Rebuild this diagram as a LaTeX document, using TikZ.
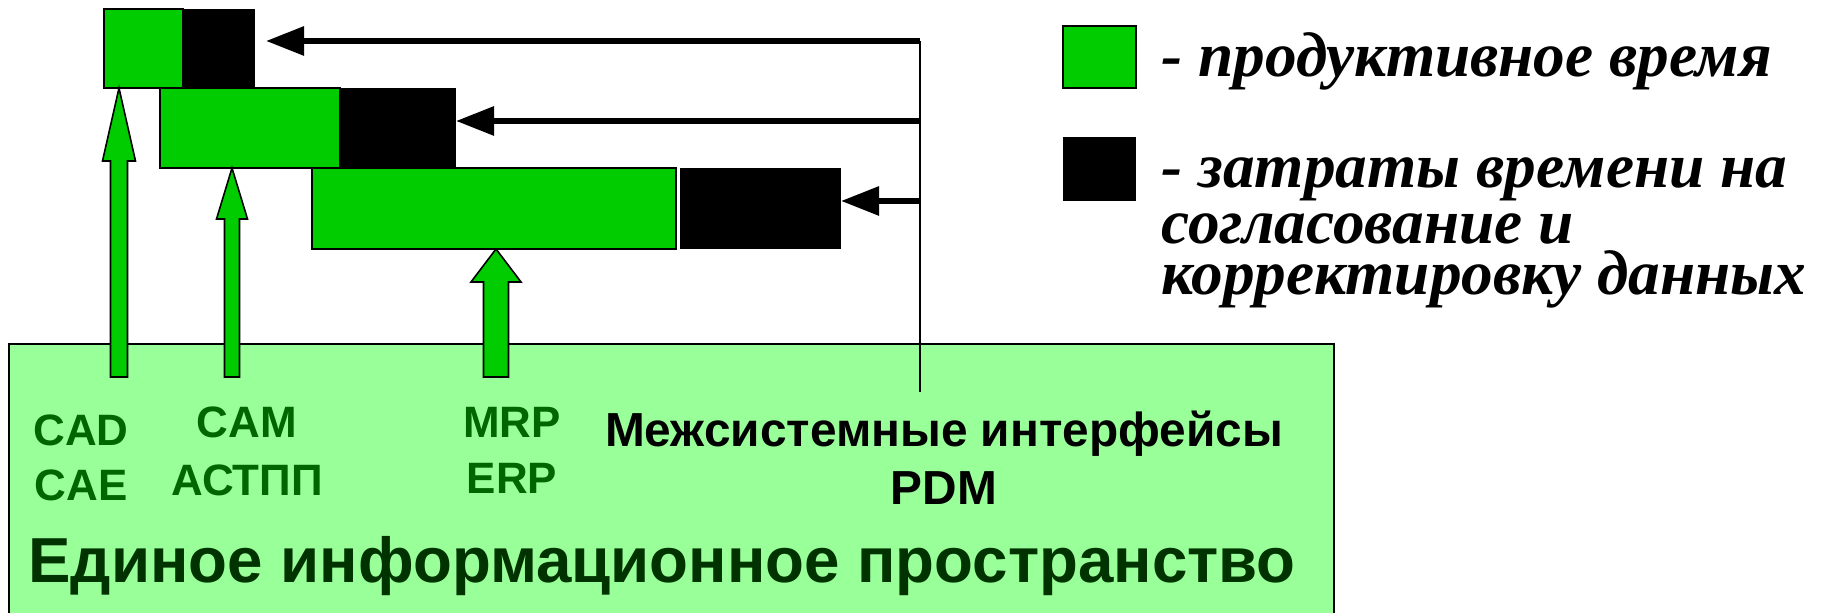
\documentclass[tikz,border=0pt]{standalone}
\usepackage{fontspec}
\setmainfont{Liberation Serif}
\setsansfont{Liberation Sans}
\usetikzlibrary{arrows.meta,calc}
\definecolor{prodgreen}{RGB}{0,204,0}
\definecolor{spacegreen}{RGB}{153,255,153}
\definecolor{labelgreen}{RGB}{0,102,0}
\definecolor{titlegreen}{RGB}{0,51,0}
\tikzset{
  prodbox/.style={draw=black, line width=0.6pt, fill=prodgreen, inner sep=0pt, outer sep=0pt, anchor=south west},
  lagbox/.style={fill=black, inner sep=0pt, outer sep=0pt, anchor=south west},
  feed/.style={draw=black, line width=0.45pt, fill=prodgreen, line join=miter},
  ptr/.style={line width=1.7pt, -{Triangle[length=3.8mm,width=2.8mm]}},
  lbl/.style={font=\sffamily\bfseries\fontsize{12.5}{14}\selectfont, text=labelgreen, inner sep=0pt},
  sys/.style={font=\sffamily\bfseries\fontsize{13.6}{15}\selectfont, text=black, inner sep=0pt},
  legtxt/.style={font=\rmfamily\bfseries\itshape\fontsize{18}{20}\selectfont, inner sep=0pt, anchor=base west},
}
% up arrow: #1 foot, #2 tip, #3 half shaft, #4 half head, #5 head length
\newcommand{\feedarrow}[5]{%
  \draw[feed] ($(#1)+(-#3,0)$) -- ($(#2)+(-#3,-#5)$) -- ($(#2)+(-#4,-#5)$) -- (#2)
    -- ($(#2)+(#4,-#5)$) -- ($(#2)+(#3,-#5)$) -- ($(#1)+(#3,0)$) -- cycle;}
\begin{document}
\begin{tikzpicture}
\useasboundingbox (0,0) rectangle (18.30,6.13);
%common information space
\draw[line width=0.6pt, fill=spacegreen] (0.09,-0.2) rectangle (13.34,2.69);
\node[font=\sffamily\bfseries\fontsize{18.1}{21}\selectfont, text=titlegreen, inner sep=0pt] (space) at (6.62,0.47) {Единое информационное пространство};
%time bars
\node[prodbox, minimum width=0.79cm, minimum height=0.79cm] (prod1) at (1.04,5.25) {};
\node[lagbox, minimum width=0.72cm, minimum height=0.79cm] (lag1) at (1.83,5.25) {};
\node[prodbox, minimum width=1.80cm, minimum height=0.80cm] (prod2) at (1.60,4.45) {};
\node[lagbox, minimum width=1.16cm, minimum height=0.80cm] (lag2) at (3.40,4.45) {};
\node[prodbox, minimum width=3.64cm, minimum height=0.81cm] (prod3) at (3.12,3.64) {};
\node[lagbox, minimum width=1.61cm, minimum height=0.81cm] (lag3) at (6.80,3.64) {};
%interfaces
\coordinate (j0) at (9.20,2.21);
\coordinate (j1) at (9.20,5.72);
\coordinate (j2) at (9.20,4.92);
\coordinate (j3) at (9.20,4.12);
\draw[line width=0.45pt] (j0) -- (j1);
\draw[ptr, shorten >=1.1mm] (j1) -- (j1 -| lag1.east);
\draw[ptr] (j2) -- (j2 -| lag2.east);
\draw[ptr] (j3) -- (j3 -| lag3.east);
%systems feeding the bars
\coordinate (f1) at (1.19,2.36);
\coordinate (f2) at (2.32,2.36);
\coordinate (f3) at (4.96,2.36);
\coordinate (t1) at (f1 |- prod1.south);
\coordinate (t2) at (f2 |- prod2.south);
\coordinate (t3) at (f3 |- prod3.south);
\feedarrow{f1}{t1}{0.085}{0.165}{0.73}
\feedarrow{f2}{t2}{0.075}{0.155}{0.51}
\feedarrow{f3}{t3}{0.125}{0.25}{0.33}
\node[lbl] (cad) at (0.81,1.83) {CAD};
\node[lbl] (cae) at (0.81,1.28) {CAE};
\node[lbl] (cam) at (2.47,1.91) {CAM};
\node[lbl] (astpp) at (2.47,1.33) {АСТПП};
\node[lbl] (mrp) at (5.12,1.91) {MRP};
\node[lbl] (erp) at (5.12,1.35) {ERP};
\node[sys] (mezh) at (9.44,1.79) {Межсистемные интерфейсы};
\node[sys] (pdm) at (9.44,1.25) {PDM};
%legend
\node[prodbox, minimum width=0.73cm, minimum height=0.62cm] (keyprod) at (10.63,5.25) {};
\node[lagbox, minimum width=0.73cm, minimum height=0.64cm] (keylag) at (10.63,4.12) {};
\node[legtxt] (legprod) at (11.61,5.36) {- продуктивное время};
\node[legtxt] (leglag) at (11.61,4.25) {- затраты времени на};
\node[legtxt] (leglag2) at (11.61,3.69) {согласование и};
\node[legtxt] (leglag3) at (11.61,3.18) {корректировку данных};
\end{tikzpicture}
\end{document}
